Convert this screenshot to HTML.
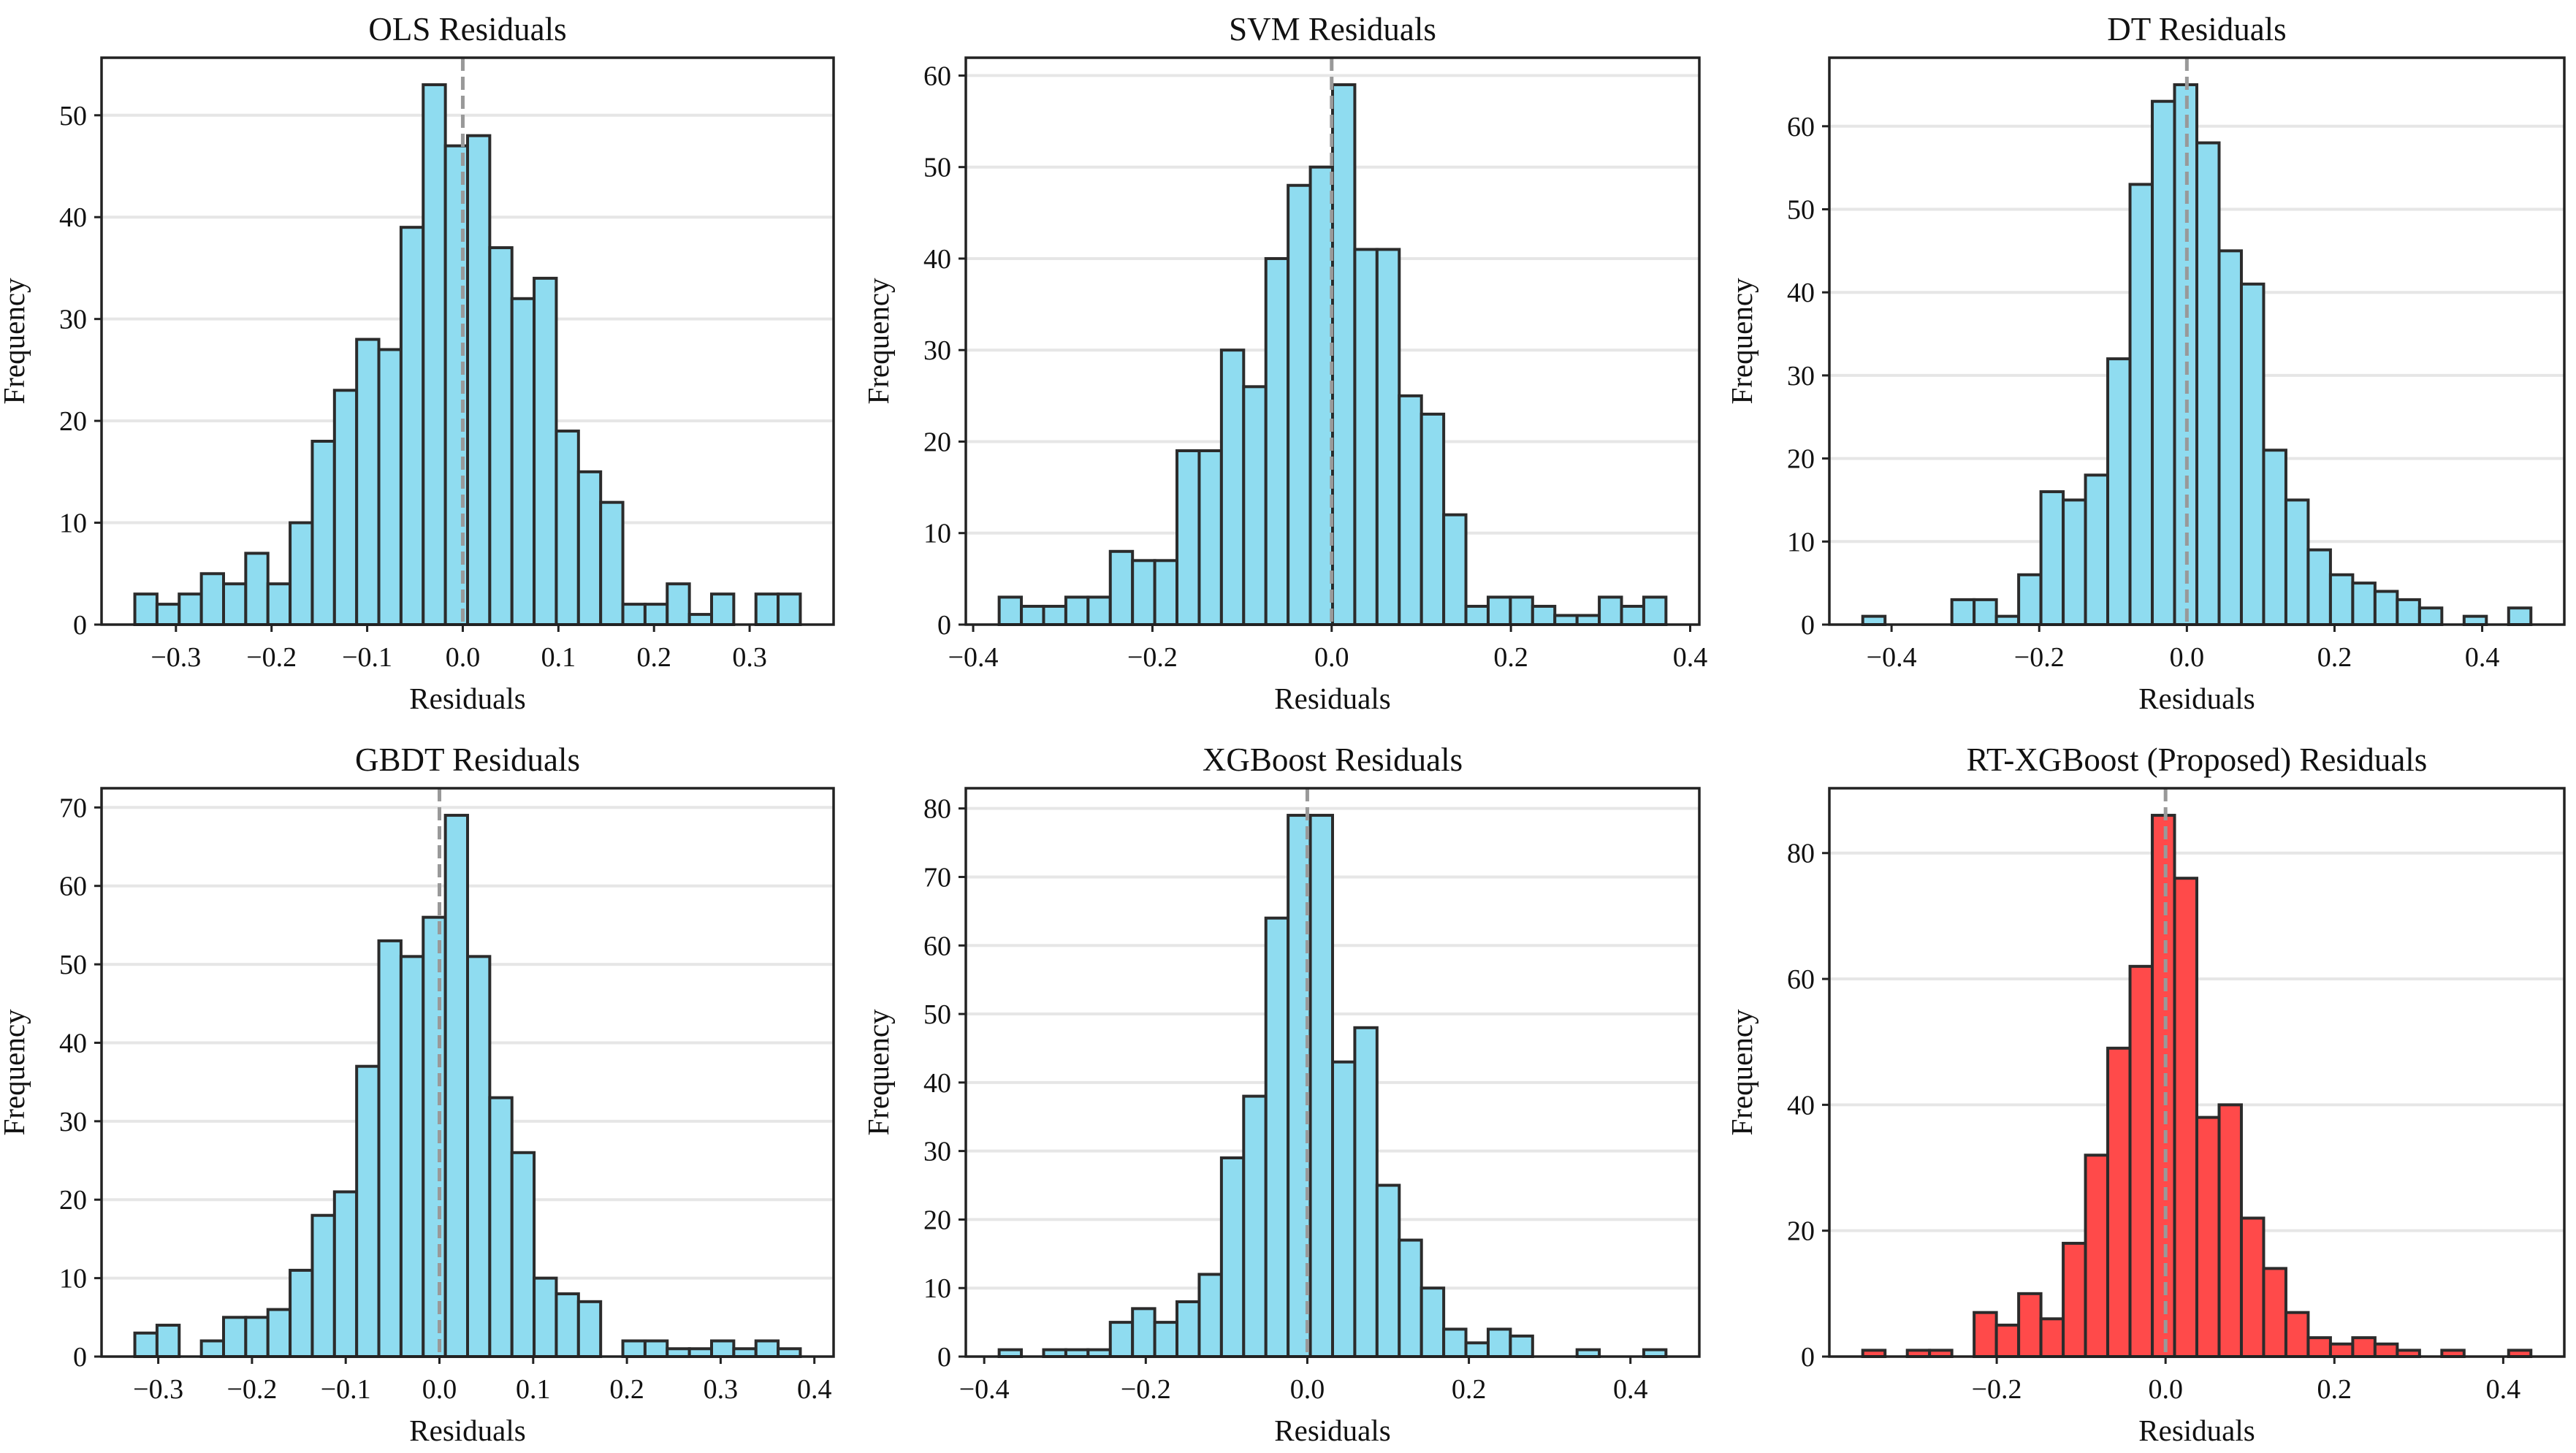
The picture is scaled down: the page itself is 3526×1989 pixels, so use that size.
<!DOCTYPE html>
<html><head><meta charset="utf-8"><style>
html,body{margin:0;padding:0;background:#fff;}
svg{display:block;font-family:"Liberation Serif","Times New Roman",serif;}
</style></head><body>
<svg id="fig" width="3526" height="1989" viewBox="0 0 3526 1989" xmlns="http://www.w3.org/2000/svg"></svg>
<script>
// ---- data ----
const olsCounts = [3,2,3,5,4,7,4,10,18,23,28,27,39,53,47,48,37,32,34,19,15,12,2,2,4,1,3,0,3,3];
const olsRange = [-0.343, 0.353];
const svmCounts = [3,2,2,3,3,8,7,7,19,19,30,26,40,48,50,59,41,41,25,23,12,2,3,3,2,1,1,3,2,3];
const svmRange = [-0.371, 0.373];
const dtCounts = [1,0,0,0,3,3,1,6,16,15,18,32,53,63,65,58,45,41,21,15,9,6,5,4,3,2,0,1,0,2];
const dtRange = [-0.439, 0.466];
const gbdtCounts = [3,4,0,2,5,5,6,11,18,21,37,53,51,56,69,51,33,26,10,8,7,0,2,2,1,1,2,1,2,1];
const gbdtRange = [-0.325, 0.385];
const xgbCounts = [1,0,1,1,1,5,7,5,8,12,29,38,64,79,79,43,48,25,17,10,4,2,4,3,0,0,1,0,0,1];
const xgbRange = [-0.3815, 0.444];
const rtCounts = [1,0,1,1,0,7,5,10,6,18,32,49,62,86,76,38,40,22,14,7,3,2,3,2,1,0,1,0,0,1];
const rtRange = [-0.3587, 0.4328];
const titles = ["OLS Residuals","SVM Residuals","DT Residuals","GBDT Residuals","XGBoost Residuals","RT-XGBoost (Proposed) Residuals"];
const xTicks = [[-0.3,-0.2,-0.1,0,0.1,0.2,0.3],[-0.4,-0.2,0,0.2,0.4],[-0.4,-0.2,0,0.2,0.4],[-0.3,-0.2,-0.1,0,0.1,0.2,0.3,0.4],[-0.4,-0.2,0,0.2,0.4],[-0.2,0,0.2,0.4]];
const yTicks = [[0,10,20,30,40,50],[0,10,20,30,40,50,60],[0,10,20,30,40,50,60],[0,10,20,30,40,50,60,70],[0,10,20,30,40,50,60,70,80],[0,20,40,60,80]];
const names = ["ols","svm","dt","gbdt","xgboost","rt-xgboost"];
const allCounts = [olsCounts,svmCounts,dtCounts,gbdtCounts,xgbCounts,rtCounts];
const allRanges = [olsRange,svmRange,dtRange,gbdtRange,xgbRange,rtRange];

// ---- layout ----
const boxes = [[139,79,1141,855],[1322,79,2326,855],[2504,79,3510,855],[139,1079,1141,1857],[1322,1079,2326,1857],[2504,1079,3510,1857]];
const NS="http://www.w3.org/2000/svg";
const svg=document.getElementById('fig');
function mk(tag,attrs,parent){const e=document.createElementNS(NS,tag);for(const k in attrs)e.setAttribute(k,attrs[k]);(parent||svg).appendChild(e);return e;}
function fmt(v){const s=Math.abs(v).toFixed(1);return (v<-1e-9?"\u2212":"")+s;}

for(let p=0;p<6;p++){
  const [L,T,R,B]=boxes[p];
  const counts=allCounts[p], rng=allRanges[p];
  const span=rng[1]-rng[0];
  const x0=rng[0]-0.05*span, x1=rng[1]+0.05*span;
  const ymax=Math.max(...counts)*1.05;
  const sx=v=>L+(v-x0)/(x1-x0)*(R-L);
  const sy=v=>B-v/ymax*(B-T);
  const g=mk('g',{});
  
  
  yTicks[p].forEach(t=>{ if(t===0) return;
    const ln=mk('line',{x1:L,x2:R,y1:sy(t),y2:sy(t),stroke:'#e6e6e6','stroke-width':4},g);
    
    
  });
  const n=counts.length, w=span/n;
  const fill = p===5 ? '#ff4a4a' : '#8fdcf0';
  counts.forEach((c,i)=>{ if(c<=0) return;
    const xa=sx(rng[0]+i*w), xb=sx(rng[0]+(i+1)*w);
    const r=mk('rect',{x:xa,y:sy(c),width:xb-xa,height:B-sy(c),fill:fill,stroke:'#2b2b2b','stroke-width':4},g);
    
    
  });
  const z=mk('line',{x1:sx(0),x2:sx(0),y1:T,y2:B,stroke:'#999','stroke-width':5,'stroke-dasharray':'18,8'},g);
  
  
  const f=mk('rect',{x:L,y:T,width:R-L,height:B-T,fill:'none',stroke:'#222','stroke-width':3.5},g);
  
  
  xTicks[p].forEach(t=>{
    const x=sx(t);
    mk('line',{x1:x,x2:x,y1:B,y2:B+10,stroke:'#222','stroke-width':3},g);
    const tx=mk('text',{x:x,y:B+57,'text-anchor':'middle','font-size':38,fill:'#111'},g);
    tx.textContent=fmt(t);
    
    
  });
  yTicks[p].forEach(t=>{
    const y=sy(t);
    mk('line',{x1:L-10,x2:L,y1:y,y2:y,stroke:'#222','stroke-width':3},g);
    const ty=mk('text',{x:L-20,y:y+13,'text-anchor':'end','font-size':38,fill:'#111'},g);
    ty.textContent=String(t);
    
    
  });
  const tt=mk('text',{x:(L+R)/2,y:T-24,'text-anchor':'middle','font-size':45,fill:'#111'},g);
  tt.textContent=titles[p];
  
  
  const xl=mk('text',{x:(L+R)/2,y:B+115,'text-anchor':'middle','font-size':41,fill:'#111'},g);
  xl.textContent='Residuals';
  
  
  const yc=(T+B)/2, ylx=L-(p%3===2?106:106);
  const yl=mk('text',{x:ylx,y:yc,'text-anchor':'middle','font-size':41,fill:'#111',transform:`rotate(-90 ${ylx} ${yc})`},g);
  yl.textContent='Frequency';
  
  
}
</script>
</body></html>
